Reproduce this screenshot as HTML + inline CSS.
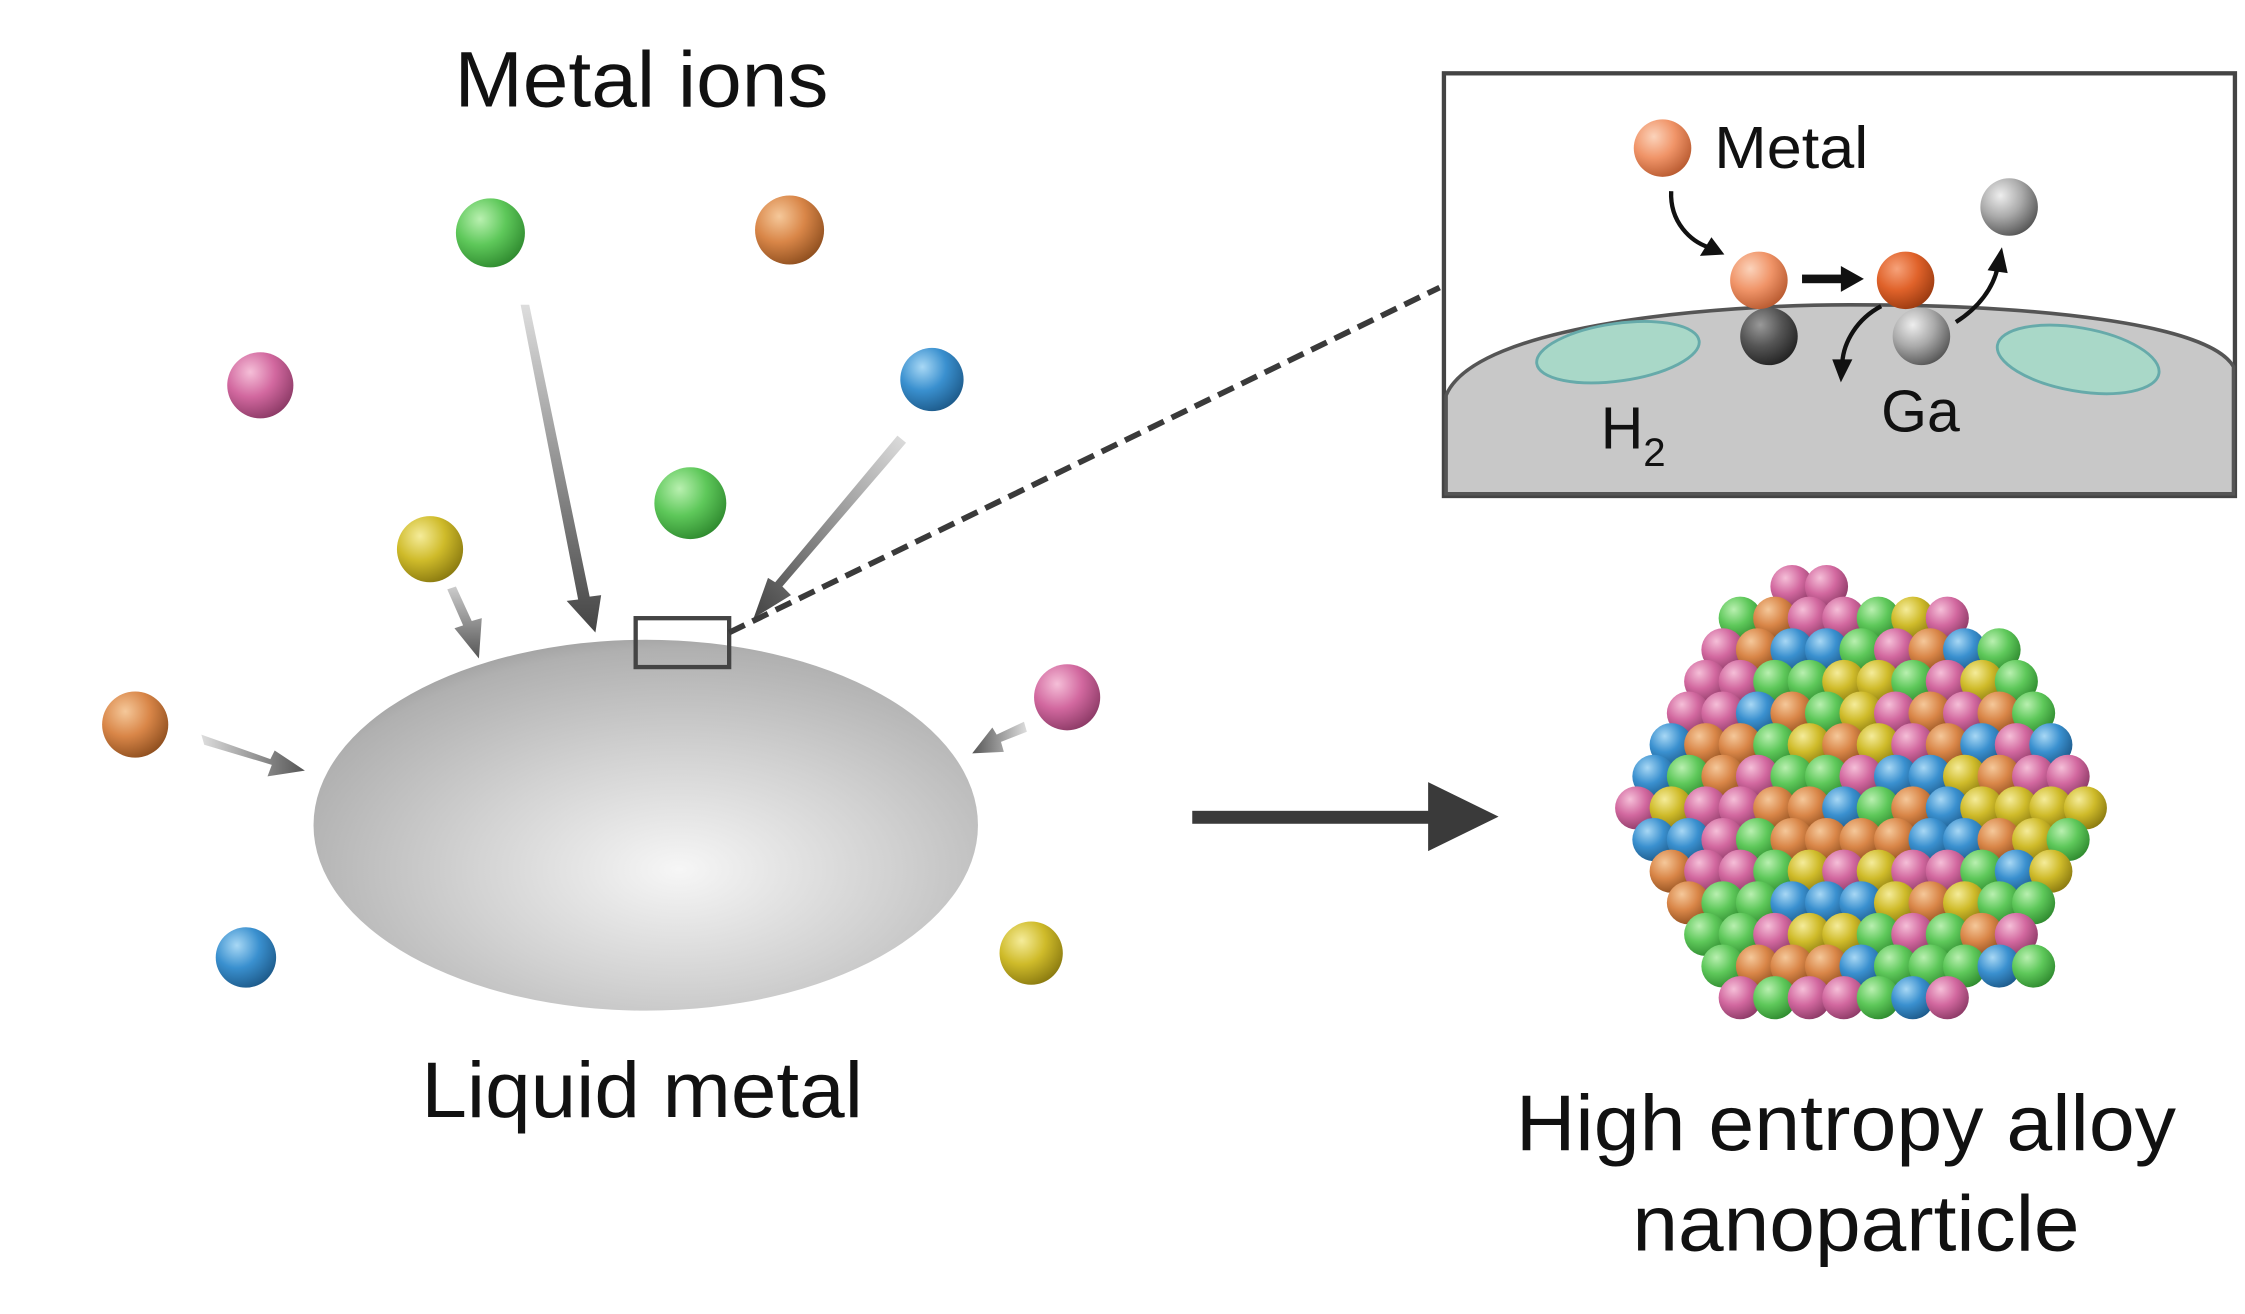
<!DOCTYPE html>
<html><head><meta charset="utf-8"><style>
html,body{margin:0;padding:0;background:#fff;}
svg{display:block;}
text{font-family:"Liberation Sans",sans-serif;fill:#111;}
</style></head><body>
<svg id="s" width="2245" height="1314" viewBox="4 0 1561 914" preserveAspectRatio="none" xmlns="http://www.w3.org/2000/svg">
<defs>
<radialGradient id="lm" cx="0.55" cy="0.62" r="0.7">
<stop offset="0" stop-color="#f6f6f6"/><stop offset="0.45" stop-color="#d2d2d2"/><stop offset="0.85" stop-color="#b0b0b0"/><stop offset="1" stop-color="#8e8e8e"/></radialGradient>
<radialGradient id="gG" cx="0.35" cy="0.3" r="0.75"><stop offset="0" stop-color="#b9f0b0"/><stop offset="0.5" stop-color="#5ec85a"/><stop offset="1" stop-color="#2f8a2f"/></radialGradient>
<radialGradient id="gO" cx="0.35" cy="0.3" r="0.75"><stop offset="0" stop-color="#f5c89a"/><stop offset="0.5" stop-color="#d98648"/><stop offset="1" stop-color="#8f4f1f"/></radialGradient>
<radialGradient id="gP" cx="0.35" cy="0.3" r="0.75"><stop offset="0" stop-color="#f5bfd8"/><stop offset="0.5" stop-color="#d2689f"/><stop offset="1" stop-color="#8c3a66"/></radialGradient>
<radialGradient id="gB" cx="0.35" cy="0.3" r="0.75"><stop offset="0" stop-color="#a8d8f5"/><stop offset="0.5" stop-color="#3a90cf"/><stop offset="1" stop-color="#1d5a8a"/></radialGradient>
<radialGradient id="gY" cx="0.35" cy="0.3" r="0.75"><stop offset="0" stop-color="#f5ec9a"/><stop offset="0.5" stop-color="#cfbb2a"/><stop offset="1" stop-color="#8a7a10"/></radialGradient>
<radialGradient id="gM" cx="0.35" cy="0.3" r="0.75"><stop offset="0" stop-color="#fbd3bb"/><stop offset="0.5" stop-color="#f09468"/><stop offset="1" stop-color="#b85a30"/></radialGradient>
<radialGradient id="gM2" cx="0.35" cy="0.3" r="0.75"><stop offset="0" stop-color="#f6a27a"/><stop offset="0.5" stop-color="#e0622a"/><stop offset="1" stop-color="#9a3a10"/></radialGradient>
<radialGradient id="gK" cx="0.35" cy="0.3" r="0.75"><stop offset="0" stop-color="#999"/><stop offset="0.5" stop-color="#555"/><stop offset="1" stop-color="#222"/></radialGradient>
<radialGradient id="gK2" cx="0.35" cy="0.3" r="0.75"><stop offset="0" stop-color="#eee"/><stop offset="0.5" stop-color="#aaa"/><stop offset="1" stop-color="#555"/></radialGradient>
<linearGradient id="a1" x1="0" y1="0" x2="0" y2="1"><stop offset="0" stop-color="#ddd"/><stop offset="1" stop-color="#444"/></linearGradient>
<linearGradient id="a2" x1="1" y1="0" x2="0" y2="1"><stop offset="0" stop-color="#ddd"/><stop offset="1" stop-color="#444"/></linearGradient>
<linearGradient id="a3" x1="0" y1="0" x2="1" y2="0"><stop offset="0" stop-color="#ddd"/><stop offset="1" stop-color="#555"/></linearGradient>
<linearGradient id="a4" x1="1" y1="0" x2="0" y2="0"><stop offset="0" stop-color="#ddd"/><stop offset="1" stop-color="#555"/></linearGradient>
<linearGradient id="a5" x1="0" y1="0" x2="0" y2="1"><stop offset="0" stop-color="#ccc"/><stop offset="1" stop-color="#555"/></linearGradient>
</defs>

<text x="320" y="74" font-size="55" textLength="260" lengthAdjust="spacingAndGlyphs">Metal ions</text>
<text x="297" y="777" font-size="55" textLength="307" lengthAdjust="spacingAndGlyphs">Liquid metal</text>
<text x="1058" y="800" font-size="55" textLength="459" lengthAdjust="spacingAndGlyphs">High entropy alloy</text>
<text x="1139" y="870" font-size="55" textLength="311" lengthAdjust="spacingAndGlyphs">nanoparticle</text>

<ellipse cx="453" cy="574" rx="231" ry="129" fill="url(#lm)"/>

<polygon points="366,212 372,212 414,415 422,414 418,440 398,418 406,417" fill="url(#a1)"/>
<polygon points="628,303 634,308 548,408 554,414 528,430 538,402 543,405" fill="url(#a2)"/>
<polygon points="315,410 321,408 332,432 339,430 337,458 320,437 326,435" fill="url(#a5)"/>
<polygon points="144,511 146,518 193,532 190,540 216,536 195,522 192,528" fill="url(#a3)"/>
<polygon points="716,502 718,509 700,516 702,523 680,524 694,506 697,511" fill="url(#a4)"/>

<circle cx="345" cy="162" r="24" fill="url(#gG)"/>
<circle cx="553" cy="160" r="24" fill="url(#gO)"/>
<circle cx="185" cy="268" r="23" fill="url(#gP)"/>
<circle cx="652" cy="264" r="22" fill="url(#gB)"/>
<circle cx="484" cy="350" r="25" fill="url(#gG)"/>
<circle cx="303" cy="382" r="23" fill="url(#gY)"/>
<circle cx="98" cy="504" r="23" fill="url(#gO)"/>
<circle cx="746" cy="485" r="23" fill="url(#gP)"/>
<circle cx="175" cy="666" r="21" fill="url(#gB)"/>
<circle cx="721" cy="663" r="22" fill="url(#gY)"/>

<rect x="446" y="430" width="65" height="34" fill="none" stroke="#444" stroke-width="3"/>
<line x1="511" y1="440" x2="1005" y2="200" stroke="#3a3a3a" stroke-width="4" stroke-dasharray="12,6"/>

<rect x="833" y="564" width="170" height="9" fill="#3a3a3a"/>
<polygon points="997,544 1046,568 997,592" fill="#3a3a3a"/>

<rect x="1008" y="51" width="550" height="294" fill="#fff" stroke="#444" stroke-width="3"/>
<path d="M1009.5,343.5 L1009.5,275 C1030,225 1200,212 1290,212 C1420,212 1540,225 1557,255 L1557,343.5 Z" fill="#c8c8c8" stroke="#555" stroke-width="2.5"/>
<ellipse cx="1129" cy="245" rx="57" ry="20" transform="rotate(-8 1129 245)" fill="#a9d8c8" stroke="#6aa" stroke-width="2"/>
<ellipse cx="1449" cy="250" rx="57" ry="22" transform="rotate(10 1449 250)" fill="#a9d8c8" stroke="#6aa" stroke-width="2"/>
<circle cx="1234" cy="234" r="20" fill="url(#gK)"/>
<circle cx="1340" cy="234" r="20" fill="url(#gK2)"/>
<circle cx="1227" cy="195" r="20" fill="url(#gM)"/>
<circle cx="1329" cy="195" r="20" fill="url(#gM2)"/>
<circle cx="1160" cy="103" r="20" fill="url(#gM)"/>
<circle cx="1401" cy="144" r="20" fill="url(#gK2)"/>
<path d="M1166,133 C1165,155 1180,168 1192,172" fill="none" stroke="#111" stroke-width="3"/>
<polygon points="1203,177 1186,178 1194,165" fill="#111"/>
<rect x="1257" y="191" width="30" height="6" fill="#111"/>
<polygon points="1284,185 1300,194 1284,203" fill="#111"/>
<path d="M1312,213 C1295,222 1286,238 1285,252" fill="none" stroke="#111" stroke-width="3"/>
<polygon points="1278,250 1292,250 1284,266" fill="#111"/>
<path d="M1364,224 C1380,214 1390,200 1393,186" fill="none" stroke="#111" stroke-width="3"/>
<polygon points="1386,188 1400,190 1396,172" fill="#111"/>
<text x="1196" y="117" font-size="41" textLength="107" lengthAdjust="spacingAndGlyphs">Metal</text>
<text x="1312" y="300" font-size="41">Ga</text>
<text x="1117" y="312" font-size="41">H<tspan font-size="28" dy="12">2</tspan></text>

<g id="np"></g>
</svg>
<script>
(function(){
var g=document.getElementById('np');
var cols=['url(#gG)','url(#gO)','url(#gP)','url(#gB)','url(#gY)'];
var seed=7;function rnd(){seed=(seed*9301+49297)%233280;return seed/233280;}
var poly=[[1255,398],[1395,440],[1460,560],[1420,680],[1300,722],[1190,690],[1133,545],[1185,440]];
function inside(x,y){var c=false;for(var i=0,j=poly.length-1;i<poly.length;j=i++){var xi=poly[i][0],yi=poly[i][1],xj=poly[j][0],yj=poly[j][1];if(((yi>y)!=(yj>y))&&(x<(xj-xi)*(y-yi)/(yj-yi)+xi))c=!c;}return c;}
var s='';
for(var y=408;y<=712;y+=22){for(var x=1130;x<=1460;x+=24){var xx=x+((y/22|0)%2)*12;if(inside(xx,y)){s+='<circle cx="'+xx+'" cy="'+y+'" r="15" fill="'+cols[Math.floor(rnd()*5)]+'"/>';}}}
g.innerHTML=s;
})();
</script>
</body></html>
